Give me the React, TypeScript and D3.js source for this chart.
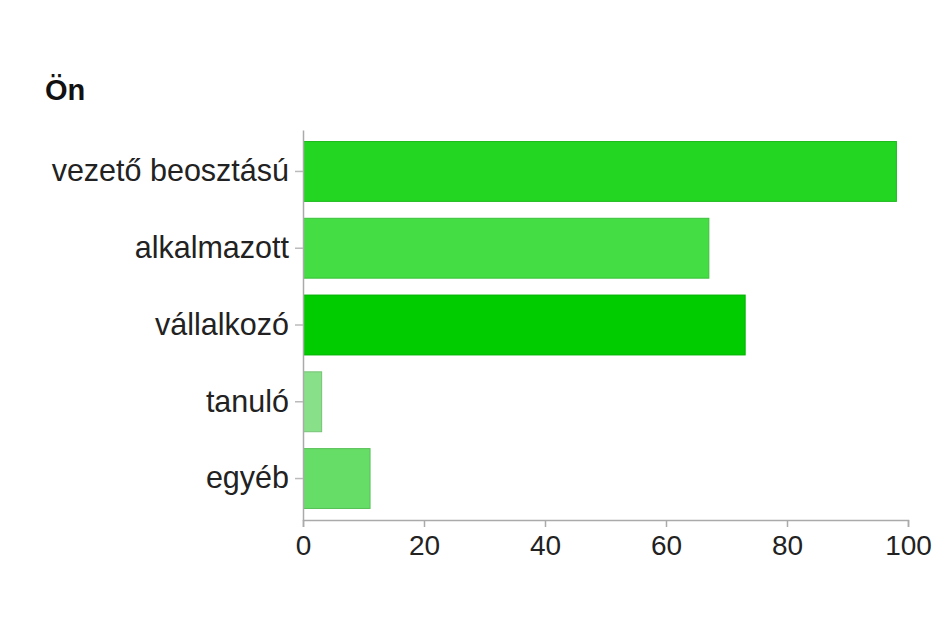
import React, { useEffect, useRef } from 'react';
import * as d3 from 'd3';

const title = 'Ön';
const categories = ['vezető beosztású', 'alkalmazott', 'vállalkozó', 'tanuló', 'egyéb'];
const values = [98, 67, 73, 3, 11];
const barColors = ['#22d622', '#44dd44', '#00cc00', '#88e088', '#66dd66'];
const xTicks = [0, 20, 40, 60, 80, 100];

const width = 952;
const height = 638;

const App: React.FC = () => {
  const svgRef = useRef<SVGSVGElement>(null);

  useEffect(() => {
    if (!svgRef.current) return;
    const svg = d3.select(svgRef.current);
    svg.selectAll('*').remove();

    const margin = { top: 130, right: 44, bottom: 118, left: 303 };
    const innerWidth = width - margin.left - margin.right;
    const innerHeight = height - margin.top - margin.bottom;
    const font = '"Liberation Sans", Arial, Helvetica, sans-serif';

    svg.append('rect').attr('width', width).attr('height', height).attr('fill', '#ffffff');

    // title
    svg.append('text')
      .attr('x', 45)
      .attr('y', 100)
      .style('font-family', font)
      .style('font-size', '29px')
      .style('font-weight', 'bold')
      .attr('fill', '#111')
      .text(title);

    const g = svg.append('g').attr('transform', `translate(${margin.left},${margin.top})`);

    const x = d3.scaleLinear().domain([0, 100]).range([0, innerWidth]);
    const y = d3.scaleBand<string>()
      .domain(categories)
      .range([0, innerHeight])
      .paddingInner(0.22)
      .paddingOuter(0.15);

    // bars
    g.selectAll('rect.bar')
      .data(categories)
      .enter()
      .append('rect')
      .attr('class', 'bar')
      .attr('x', 0.5)
      .attr('y', d => y(d) as number)
      .attr('width', (_, i) => x(values[i]))
      .attr('height', y.bandwidth())
      .attr('fill', (_, i) => barColors[i])
      .attr('stroke', (_, i) => d3.color(barColors[i])!.darker(0.4).toString())
      .attr('stroke-width', 1);

    // x axis
    const xAxis = g.append('g')
      .attr('transform', `translate(0,${innerHeight})`)
      .call(d3.axisBottom(x).tickValues(xTicks).tickSize(7).tickSizeOuter(7).tickPadding(8));
    xAxis.select('.domain').attr('stroke', '#aaa').attr('stroke-width', 1.5);
    xAxis.selectAll('.tick line').attr('stroke', '#aaa').attr('stroke-width', 1.5);
    xAxis.selectAll('text')
      .style('font-family', font)
      .style('font-size', '28px')
      .attr('fill', '#222');

    // y axis
    const yAxis = g.append('g')
      .call(d3.axisLeft(y).tickSize(8).tickSizeOuter(0).tickPadding(6));
    yAxis.select('.domain').attr('stroke', '#aaa').attr('stroke-width', 1.5);
    yAxis.selectAll('.tick line').attr('stroke', '#bbb').attr('stroke-width', 1.5);
    yAxis.selectAll('text')
      .style('font-family', font)
      .style('font-size', '30.5px')
      .attr('fill', '#222');
  }, []);

  return (
    <svg
      ref={svgRef}
      width={width}
      height={height}
      style={{ position: 'absolute', left: 0, top: 0, display: 'block' }}
    />
  );
};

export default App;
